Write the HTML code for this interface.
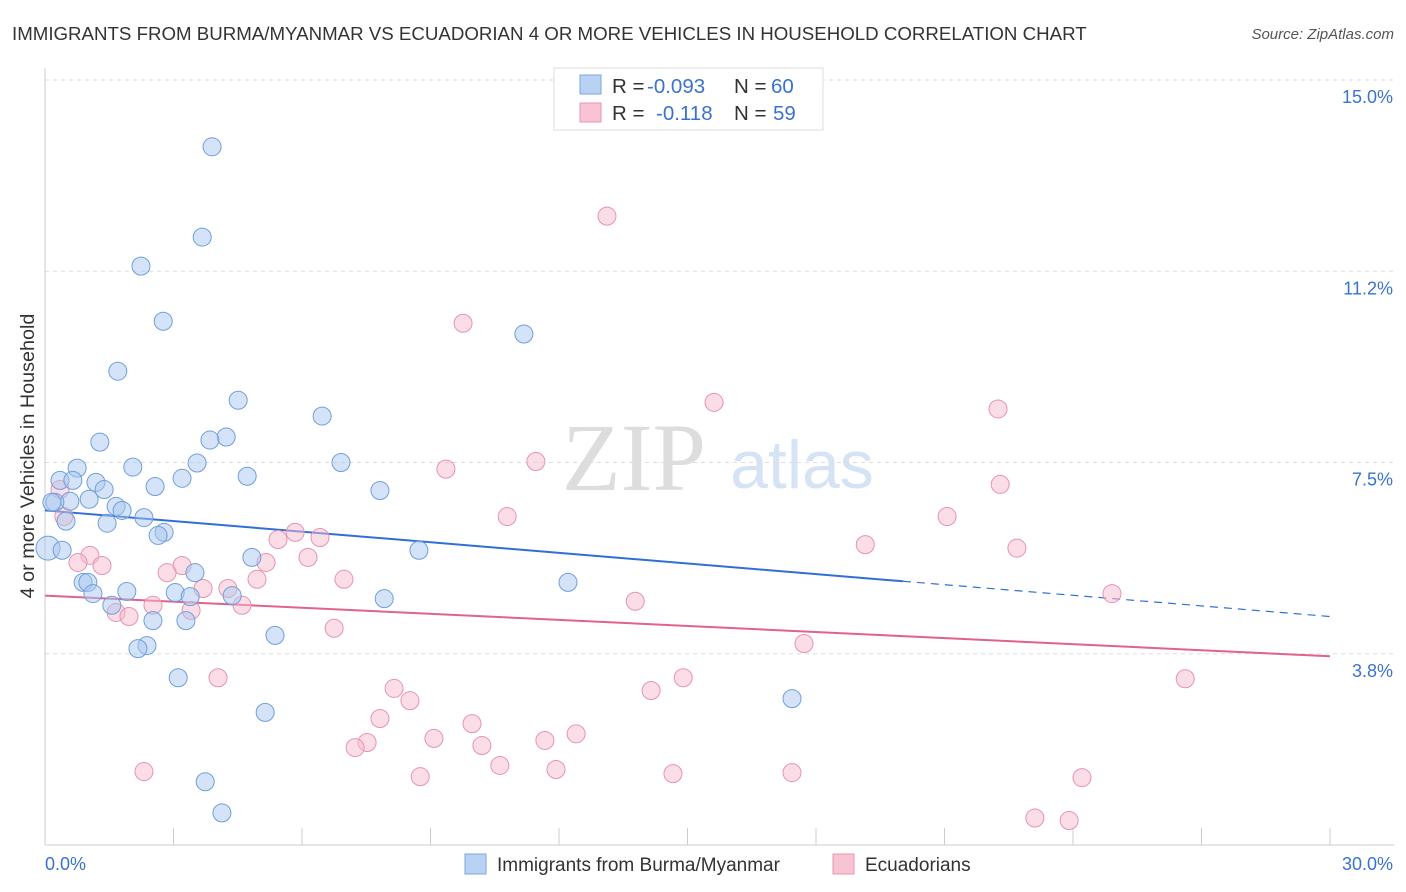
<!DOCTYPE html>
<html><head><meta charset="utf-8"><style>
body{margin:0;background:#fff;font-family:"Liberation Sans",sans-serif}
svg{display:block}
</style></head><body>
<svg id="chart" width="1406" height="892" xmlns="http://www.w3.org/2000/svg">
<text x="12" y="40" font-size="18.7" fill="#333">IMMIGRANTS FROM BURMA/MYANMAR VS ECUADORIAN 4 OR MORE VEHICLES IN HOUSEHOLD CORRELATION CHART</text>
<text x="1394" y="39" font-size="15" fill="#555" font-style="italic" text-anchor="end">Source: ZipAtlas.com</text>
<g>
<text x="634" y="490" font-size="96" fill="#ddd" font-family="Liberation Serif,serif" text-anchor="middle">ZIP</text>
<text x="802" y="488" font-size="68" fill="#d5e3f5" text-anchor="middle">atlas</text>
</g>
<g id="grid"></g>
<g id="axes"></g>
<g id="trends"></g>
<g id="points"></g>
<text x="34" y="456" font-size="19.8" fill="#333" text-anchor="middle" transform="rotate(-90 34 456)">4 or more Vehicles in Household</text>
<g>
<rect x="554" y="68" width="269" height="62" fill="#fff" stroke="#ddd"/>
<rect x="580" y="75" width="21" height="19" fill="#b8d2f3" stroke="#7aa6e0"/>
<rect x="580" y="103" width="21" height="19" fill="#f8c4d3" stroke="#ea95b0"/>
<text x="612" y="93" font-size="20.5" fill="#333">R = <tspan x="647" fill="#3a72d0">-0.093</tspan><tspan x="734">N = </tspan><tspan x="771" fill="#3a72d0">60</tspan></text>
<text x="612" y="120" font-size="20.5" fill="#333">R = <tspan x="656" fill="#3a72d0">-0.118</tspan><tspan x="734">N = </tspan><tspan x="773" fill="#3a72d0">59</tspan></text>
</g>
<g>
<rect x="465" y="854" width="21" height="20" fill="#b8d2f3" stroke="#7aa6e0"/>
<text x="497" y="871" font-size="19" fill="#333">Immigrants from Burma/Myanmar</text>
<rect x="833" y="854" width="21" height="20" fill="#f8c4d3" stroke="#ea95b0"/>
<text x="865" y="871" font-size="19" fill="#333">Ecuadorians</text>
</g>
</svg>
<script>
const yTicks=[15.0,11.25,7.5,3.75];
const yTickLabels=["15.0%","11.2%","7.5%","3.8%"];
const xTickLabels=["0.0%","30.0%"];
const blueX=[3.90,3.67,2.24,2.76,11.18,1.70,4.51,6.47,4.23,3.85,1.28,6.91,3.55,2.05,0.75,4.72,3.20,0.35,0.65,1.19,2.57,1.38,7.82,1.03,0.58,0.23,1.66,1.80,2.31,0.49,1.45,2.78,2.64,0.07,0.40,8.73,4.83,3.50,12.21,0.89,1.00,1.91,1.12,3.04,3.39,4.37,7.92,1.56,2.52,3.29,5.37,2.38,2.17,3.11,5.14,17.44,3.74,4.13,0.16];
const blueY=[13.69,11.92,11.35,10.27,10.02,9.29,8.72,8.41,8.00,7.94,7.90,7.50,7.49,7.41,7.39,7.23,7.19,7.15,7.15,7.11,7.03,6.97,6.95,6.78,6.74,6.72,6.64,6.56,6.42,6.35,6.31,6.13,6.07,5.82,5.78,5.78,5.64,5.34,5.15,5.15,5.15,4.97,4.93,4.95,4.87,4.89,4.83,4.70,4.40,4.40,4.11,3.91,3.85,3.28,2.60,2.87,1.24,0.63,6.72];
const pinkX=[13.12,9.76,15.62,22.25,11.46,9.36,22.30,0.35,10.79,21.06,0.44,5.84,5.44,6.42,19.15,22.69,1.05,0.77,1.33,6.14,5.16,3.20,2.85,6.98,4.95,4.27,3.69,24.91,13.78,2.52,3.41,4.60,1.66,1.96,6.75,17.72,4.04,14.90,26.62,14.15,8.15,8.52,7.82,9.97,12.40,9.08,11.67,7.52,10.20,7.24,10.62,11.93,2.31,8.76,14.66,17.44,24.21,23.11,23.91];
const pinkY=[12.33,10.23,8.68,8.55,7.52,7.37,7.07,6.97,6.44,6.44,6.44,6.13,5.99,6.03,5.89,5.82,5.68,5.54,5.48,5.64,5.54,5.48,5.34,5.21,5.21,5.03,5.03,4.93,4.78,4.70,4.60,4.70,4.56,4.48,4.25,3.95,3.28,3.28,3.26,3.03,3.07,2.83,2.48,2.38,2.18,2.09,2.05,2.01,1.95,1.91,1.56,1.48,1.44,1.34,1.40,1.42,1.32,0.53,0.48];
const blueTrend=[6.56,4.48];
const pinkTrend=[4.89,3.70];
const blueSolidEnd=20.03;
const pinkSolidEnd=30;
const NS="http://www.w3.org/2000/svg";
const X0=45,X1=1330,Y0=845,Y15=80;
const xs=v=>X0+(v/30)*(X1-X0);
const ys=v=>Y0-(v/15)*(Y0-Y15);
function mk(tag,attrs,parent){const e=document.createElementNS(NS,tag);for(const k in attrs)e.setAttribute(k,attrs[k]);parent.appendChild(e);return e;}
const grid=document.getElementById('grid'),axes=document.getElementById('axes');
yTicks.forEach((t,i)=>{
  const l=mk('line',{x1:X0,x2:1394,y1:ys(t),y2:ys(t),stroke:'#ddd','stroke-dasharray':'4,4'},grid);
  
  
  const tx=mk('text',{x:1393,y:ys(t)+23,'font-size':18,fill:'#3a72d0','text-anchor':'end'},axes);
  tx.textContent=yTickLabels[i];
  
  
});
const ax=mk('line',{x1:X0,x2:X0,y1:68,y2:Y0,stroke:'#ccc'},axes);


const bx=mk('line',{x1:X0,x2:1394,y1:Y0,y2:Y0,stroke:'#ccc'},axes);


for(let k=0;k<=10;k++){
  const x=X0+k*(X1-X0)/10;
  const t=mk('line',{x1:x,x2:x,y1:828,y2:Y0,stroke:'#ccc'},axes);
  
  
}
const xl0=mk('text',{x:45,y:870,'font-size':18,fill:'#3a72d0'},axes);xl0.textContent=xTickLabels[0];


const xl1=mk('text',{x:1393,y:870,'font-size':18,fill:'#3a72d0','text-anchor':'end'},axes);xl1.textContent=xTickLabels[1];


const pts=document.getElementById('points');
function drawPts(X,Y,fill,stroke,name){
  X.forEach((x,i)=>{
    const c=mk('circle',{cx:xs(x),cy:ys(Y[i]),r:(x<0.1?12:9),fill:fill,'fill-opacity':0.5,stroke:stroke,'stroke-width':1},pts);
    
    
  });
}
drawPts(pinkX,pinkY,'#f6bccd','#e893ae','ecuadorian-point');
drawPts(blueX,blueY,'#a9c8f0','#6f9fdc','burma-point');
const tr=document.getElementById('trends');
function trend(T,end,col,name){
  const f=x=>T[0]+(T[1]-T[0])*x/30;
  const s=mk('line',{x1:xs(0),y1:ys(f(0)),x2:xs(end),y2:ys(f(end)),stroke:col,'stroke-width':2},tr);
  
  
  if(end<30){
    const d=mk('line',{x1:xs(end),y1:ys(f(end)),x2:xs(30),y2:ys(f(30)),stroke:col,'stroke-width':1.2,'stroke-dasharray':'8,6'},tr);
    
    
  }
}
trend(blueTrend,blueSolidEnd,'#2f6fd6','burma-trend-line');
trend(pinkTrend,pinkSolidEnd,'#e0628e','ecuadorian-trend-line');
</script>
</body></html>
